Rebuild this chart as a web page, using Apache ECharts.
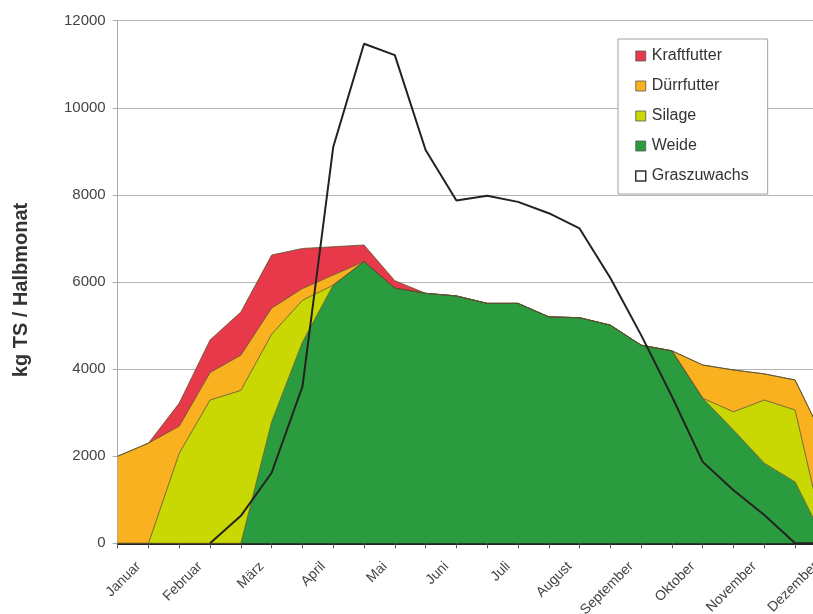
<!DOCTYPE html>
<html>
<head>
<meta charset="utf-8">
<script src="https://cdn.jsdelivr.net/npm/echarts@6/dist/echarts.min.js"></script>
<style>
  html, body { margin: 0; padding: 0; background: #fff; overflow: hidden; width: 813px; height: 614px; }
  #chart { width: 860px; height: 614px; }
</style>
</head>
<body>
<div id="chart"></div>
<script>
// Halbmonate (2 Werte je Monat)
const halfMonths = ['Jan 1', 'Jan 2', 'Feb 1', 'Feb 2', 'Mär 1', 'Mär 2', 'Apr 1', 'Apr 2',
    'Mai 1', 'Mai 2', 'Jun 1', 'Jun 2', 'Jul 1', 'Jul 2', 'Aug 1', 'Aug 2',
    'Sep 1', 'Sep 2', 'Okt 1', 'Okt 2', 'Nov 1', 'Nov 2', 'Dez 1', 'Dez 2'];
const monthLabels = ['Januar', 'Februar', 'März', 'April', 'Mai', 'Juni', 'Juli', 'August',
    'September', 'Oktober', 'November', 'Dezember'];

const weide = [0, 0, 0, 0, 0, 2790, 4620, 5930, 6470, 5860, 5740, 5680, 5510, 5510, 5200, 5180,
    5010, 4550, 4420, 3330, 2600, 1840, 1410, 0];
const silage = [0, 0, 2070, 3290, 3510, 2010, 960, 0, 0, 0, 0, 0, 0, 0, 0, 0,
    0, 0, 0, 0, 420, 1450, 1650, 0];
const duerrfutter = [2000, 2300, 620, 630, 810, 600, 270, 230, 0, 0, 0, 0, 0, 0, 0, 0,
    0, 0, 0, 765, 960, 600, 690, 2300];
const kraftfutter = [0, 0, 530, 750, 990, 1220, 920, 650, 380, 170, 0, 0, 0, 0, 0, 0,
    0, 0, 0, 0, 0, 0, 0, 0];
const graszuwachs = [null, null, null, 0, 630, 1620, 3600, 9100, 11470, 11210, 9030, 7870, 7980, 7840, 7580, 7230,
    6090, 4780, 3370, 1870, 1220, 650, 0, 0];

const colors = {
    Kraftfutter: '#e8394b',
    'Dürrfutter': '#f9b120',
    Silage: '#c9d802',
    Weide: '#2b9b3f'
};

const chart = echarts.init(document.getElementById('chart'));

function areaSeries(name, data) {
    return {
        name: name,
        type: 'line',
        stack: 'futter',
        data: data,
        showSymbol: false,
        symbol: 'none',
        color: colors[name],
        lineStyle: { width: 0.8, color: '#5b5230' },
        areaStyle: { color: colors[name], opacity: 1 },
        emphasis: { disabled: true }
    };
}

chart.setOption({
    animation: false,
    backgroundColor: '#ffffff',
    textStyle: { fontFamily: 'Liberation Sans, Arial, sans-serif' },
    grid: {
        left: 117.7,
        right: 34.1,
        top: 20.7,
        bottom: 70.7,
        outerBoundsMode: 'none'
    },
    legend: {
        orient: 'vertical',
        left: 618,
        top: 39,
        padding: [9, 19, 10, 17],
        itemGap: 14,
        itemWidth: 10,
        itemHeight: 10,
        icon: 'rect',
        backgroundColor: '#ffffff',
        borderColor: '#a0a0a0',
        borderWidth: 1,
        borderRadius: 0,
        itemStyle: { borderColor: '#555', borderWidth: 0.8 },
        textStyle: { fontSize: 16, color: '#333', padding: [0, 0, 0, 1] },
        data: [
            { name: 'Kraftfutter' },
            { name: 'Dürrfutter' },
            { name: 'Silage' },
            { name: 'Weide' },
            { name: 'Graszuwachs', itemStyle: { color: '#ffffff', borderColor: '#333', borderWidth: 1.5 } }
        ]
    },
    xAxis: {
        type: 'category',
        data: halfMonths,
        boundaryGap: false,
        axisLine: { lineStyle: { color: '#222', width: 2 } },
        axisTick: { show: true, interval: 0, length: 5, lineStyle: { color: '#555' } },
        axisLabel: {
            interval: 0,
            rotate: 45,
            margin: 11,
            padding: [0, 14, 0, 0],
            fontSize: 14,
            color: '#444',
            formatter: function (value, index) {
                return index % 2 === 1 ? monthLabels[(index - 1) / 2] : '';
            }
        },
        splitLine: { show: false }
    },
    yAxis: {
        type: 'value',
        min: 0,
        max: 12000,
        interval: 2000,
        name: 'kg TS / Halbmonat',
        nameLocation: 'middle',
        nameGap: 86,
        nameTextStyle: { fontSize: 20, fontWeight: 'bold', color: '#333', padding: [0, 16, 0, 0] },
        axisLine: { show: true, lineStyle: { color: '#aaa', width: 1 } },
        axisTick: { show: true, length: 5, lineStyle: { color: '#aaa' } },
        axisLabel: {
            margin: 12,
            fontSize: 15,
            color: '#444',
            formatter: function (v) { return String(v); }
        },
        splitLine: { lineStyle: { color: '#b5b5b5', width: 1 } }
    },
    series: [
        areaSeries('Weide', weide),
        areaSeries('Silage', silage),
        areaSeries('Dürrfutter', duerrfutter),
        areaSeries('Kraftfutter', kraftfutter),
        {
            name: 'Graszuwachs',
            type: 'line',
            data: graszuwachs,
            showSymbol: false,
            symbol: 'none',
            color: '#222',
            lineStyle: { width: 2, color: '#222' },
            z: 5,
            emphasis: { disabled: true }
        }
    ]
});
</script>
</body>
</html>
